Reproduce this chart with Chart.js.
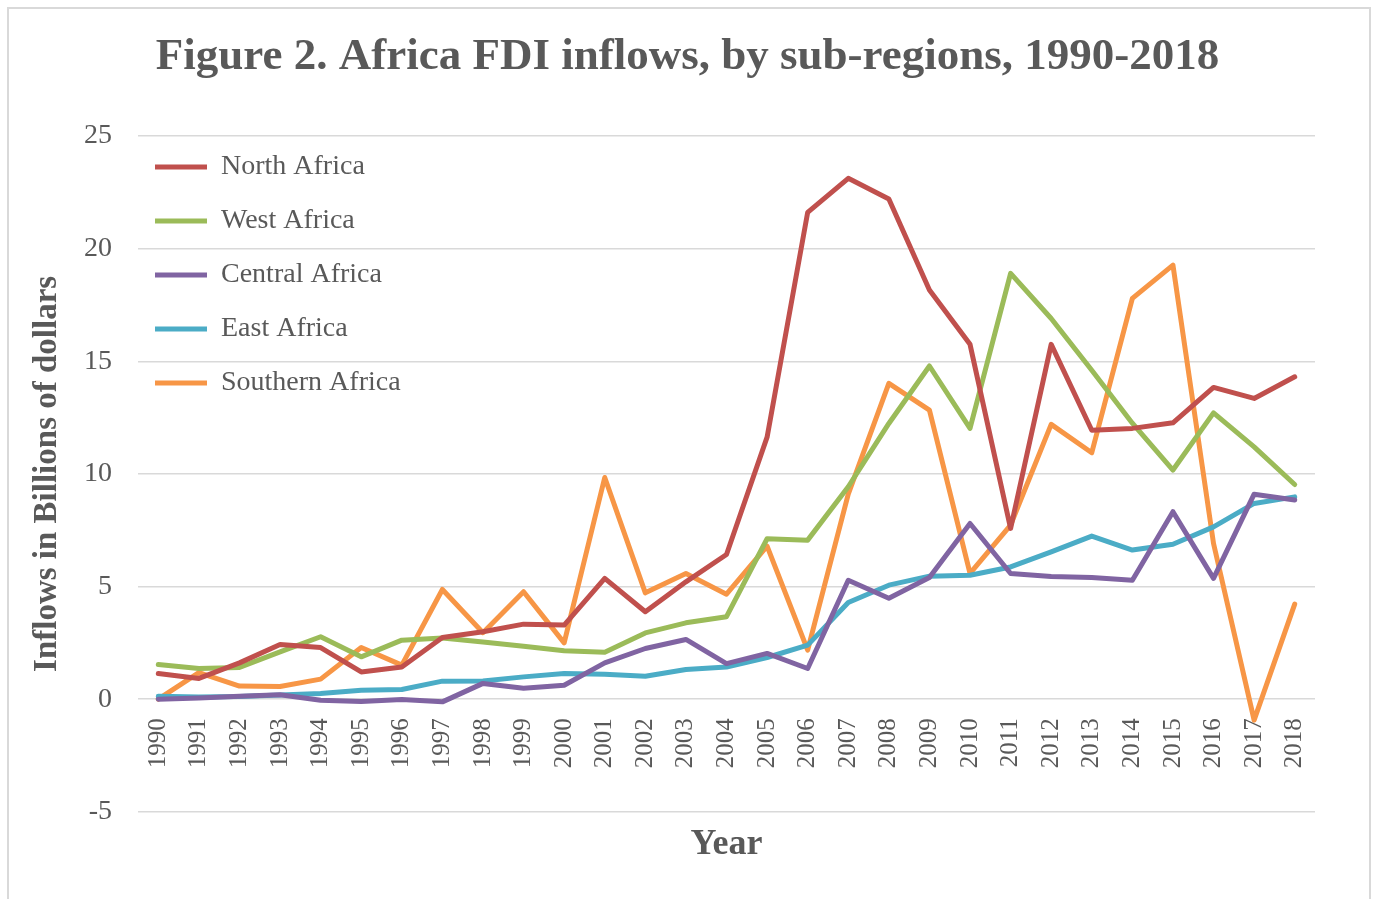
<!DOCTYPE html>
<html>
<head>
<meta charset="utf-8">
<script src="https://cdn.jsdelivr.net/npm/chart.js@4/dist/chart.umd.min.js"></script>
<style>
  html, body { margin: 0; padding: 0; background: #fff; }
  #wrap { position: relative; width: 1375px; height: 899px; }
  #frame {
    position: absolute; left: 7px; top: 7px; width: 1360px; height: 900px;
    border: 2px solid #d9d9d9; border-bottom: none; pointer-events: none;
  }
</style>
</head>
<body>
<div id="wrap">
  <canvas id="chart" width="1375" height="899"></canvas>
  <div id="frame"></div>
</div>
<script>
const years = ['1990','1991','1992','1993','1994','1995','1996','1997','1998','1999',
  '2000','2001','2002','2003','2004','2005','2006','2007','2008','2009',
  '2010','2011','2012','2013','2014','2015','2016','2017','2018'];

const northAfrica = [1.14, 0.92, 1.61, 2.43, 2.29, 1.21, 1.43, 2.74, 2.99, 3.33,
  3.29, 5.36, 3.88, 5.21, 6.42, 11.63, 21.61, 23.12, 22.2, 18.16,
  15.75, 7.58, 15.75, 11.94, 12.02, 12.27, 13.84, 13.35, 14.31];
const westAfrica = [1.54, 1.36, 1.41, 2.1, 2.77, 1.88, 2.62, 2.72, 2.54, 2.35,
  2.15, 2.08, 2.94, 3.39, 3.66, 7.12, 7.06, 9.43, 12.24, 14.79,
  12.02, 18.9, 16.9, 14.6, 12.25, 10.17, 12.71, 11.2, 9.53];
const centralAfrica = [0.0, 0.05, 0.13, 0.2, -0.05, -0.1, -0.02, -0.12, 0.7, 0.48,
  0.62, 1.61, 2.25, 2.65, 1.58, 2.03, 1.36, 5.28, 4.48, 5.4,
  7.8, 5.58, 5.45, 5.4, 5.28, 8.32, 5.36, 9.1, 8.84];
const eastAfrica = [0.13, 0.1, 0.12, 0.18, 0.25, 0.4, 0.43, 0.8, 0.81, 0.99,
  1.14, 1.11, 1.02, 1.32, 1.43, 1.85, 2.4, 4.29, 5.06, 5.46,
  5.5, 5.87, 6.54, 7.24, 6.62, 6.88, 7.65, 8.69, 8.98];
const southernAfrica = [0.0, 1.18, 0.58, 0.56, 0.89, 2.29, 1.51, 4.87, 2.95, 4.77,
  2.5, 9.84, 4.72, 5.58, 4.66, 6.79, 2.18, 9.1, 14.02, 12.83,
  5.58, 7.73, 12.2, 10.94, 17.79, 19.27, 6.91, -0.93, 4.22];

const seriesNames = ['North Africa', 'West Africa', 'Central Africa', 'East Africa', 'Southern Africa'];
const seriesColors = ['#c0504d', '#9bbb59', '#8064a2', '#4bacc6', '#f79646'];
const seriesData = [northAfrica, westAfrica, centralAfrica, eastAfrica, southernAfrica];

const serif = "'Liberation Serif', 'DejaVu Serif', serif";
const textGray = '#595959';

// legend sits inside the plot area, put it at the top-left corner like the original
const legendNudge = {
  id: 'legendNudge',
  afterLayout(chart) {
    const lg = chart.legend;
    if (lg) {
      lg.left = chart.chartArea.left - 9;
      lg.top = chart.chartArea.top - 9;
    }
  }
};

const ctx = document.getElementById('chart').getContext('2d');
new Chart(ctx, {
  type: 'line',
  data: {
    labels: years,
    datasets: seriesNames.map((name, i) => ({
      label: name,
      data: seriesData[i],
      borderColor: seriesColors[i],
      backgroundColor: seriesColors[i],
      borderWidth: 5,
      borderCapStyle: 'round',
      borderJoinStyle: 'round',
      pointRadius: 0,
      tension: 0,
      fill: false
    }))
  },
  options: {
    responsive: false,
    animation: false,
    layout: {
      padding: { left: 28, right: 28, top: 0, bottom: 0 }
    },
    scales: {
      x: {
        type: 'category',
        offset: true,
        position: { y: 0 },
        grid: { display: false, drawTicks: false },
        border: { display: false },
        ticks: {
          minRotation: 90,
          maxRotation: 90,
          autoSkip: false,
          padding: 19,
          color: textGray,
          font: { family: serif, size: 25 }
        }
      },
      y: {
        min: -5,
        max: 25,
        afterFit(scale) { scale.width = 110; },
        grid: { color: '#d9d9d9', lineWidth: 1.4, drawTicks: false },
        border: { display: false },
        ticks: {
          stepSize: 5,
          padding: 26,
          color: textGray,
          font: { family: serif, size: 28 }
        },
        title: {
          display: true,
          text: 'Inflows in Billions of dollars',
          color: textGray,
          padding: { top: 0, bottom: 17 },
          font: { family: serif, size: 33, weight: 'bold' }
        }
      },
      // empty right-hand spacer so the title stays centred on the page
      yRight: {
        position: 'right',
        afterFit(scale) { scale.width = 32; },
        grid: { display: false, drawTicks: false },
        border: { display: false },
        ticks: { display: false }
      }
    },
    plugins: {
      title: {
        display: true,
        text: 'Figure 2. Africa FDI inflows, by sub-regions, 1990-2018',
        color: textGray,
        padding: { top: 30, bottom: 52 },
        font: { family: serif, size: 45, weight: 'bold' }
      },
      subtitle: {
        display: true,
        position: 'bottom',
        fullSize: false,
        text: 'Year',
        color: textGray,
        padding: { top: 11, bottom: 33 },
        font: { family: serif, size: 36, weight: 'bold' }
      },
      legend: {
        position: 'chartArea',
        align: 'start',
        labels: {
          usePointStyle: true,
          pointStyle: 'line',
          pointStyleWidth: 52,
          padding: 26,
          color: textGray,
          font: { family: serif, size: 28 }
        }
      },
      tooltip: { enabled: false }
    }
  },
  plugins: [legendNudge]
});
</script>
</body>
</html>
